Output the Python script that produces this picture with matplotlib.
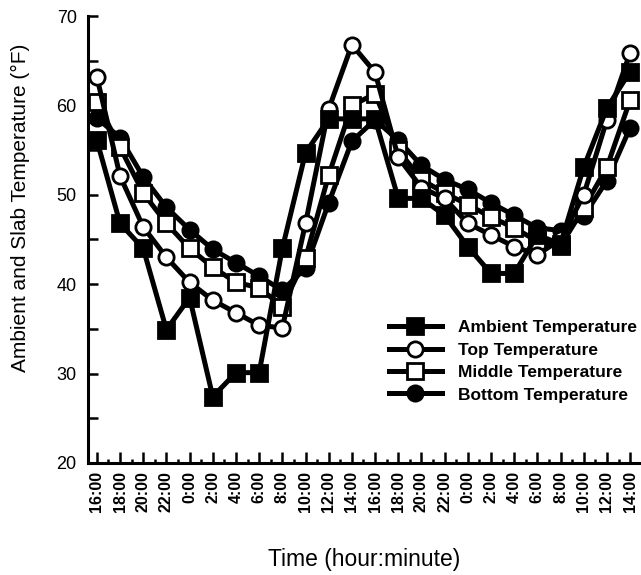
import matplotlib
matplotlib.use("Agg")
import matplotlib.pyplot as plt
from matplotlib import font_manager
from matplotlib.ticker import MultipleLocator
import numpy as np

# Time labels (every 2 hours, starting 16:00 on day 1)
time_labels = ["16:00", "18:00", "20:00", "22:00", "0:00", "2:00", "4:00", "6:00",
               "8:00", "10:00", "12:00", "14:00", "16:00", "18:00", "20:00", "22:00",
               "0:00", "2:00", "4:00", "6:00", "8:00", "10:00", "12:00", "14:00"]

# Temperatures in degrees F
ambient = [56.1, 46.8, 44.0, 34.9, 38.5, 27.4, 30.1, 30.1, 44.0, 54.7, 58.5, 58.5,
           58.5, 49.6, 49.6, 47.7, 44.2, 41.2, 41.2, 45.5, 44.5, 53.1, 59.7, 63.8]
top = [63.2, 52.1, 46.4, 43.0, 40.2, 38.2, 36.8, 35.4, 35.1, 46.8, 59.6, 66.8,
       63.7, 54.2, 50.8, 49.6, 46.8, 45.5, 44.2, 43.3, 45.0, 50.0, 58.4, 65.9]
middle = [60.4, 55.3, 50.2, 46.8, 44.0, 41.9, 40.2, 39.6, 37.5, 42.9, 52.2, 60.0,
          61.3, 55.0, 51.7, 50.2, 48.9, 47.5, 46.3, 44.8, 44.3, 48.5, 53.1, 60.6]
bottom = [58.6, 56.4, 52.0, 48.6, 46.1, 43.9, 42.4, 40.9, 39.3, 41.8, 49.1, 56.0,
          58.4, 56.1, 53.3, 51.7, 50.6, 49.1, 47.7, 46.3, 46.0, 47.6, 51.6, 57.5]

installed = {f.name for f in font_manager.fontManager.ttflist}
narrow = "Liberation Sans Narrow" if "Liberation Sans Narrow" in installed else "Liberation Sans"
plain = "Liberation Sans"

hours = np.arange(len(time_labels)) * 2

fig = plt.figure(figsize=(6.41, 5.75), dpi=100)
ax = fig.add_axes([0.137, 0.195, 0.863, 0.777])

lw = 3.6
ms = 11
mew = 2.0
series = [
    ("Ambient Temperature", ambient, dict(marker="s", mfc="black")),
    ("Top Temperature", top, dict(marker="o", mfc="white")),
    ("Middle Temperature", middle, dict(marker="s", mfc="white")),
    ("Bottom Temperature", bottom, dict(marker="o", mfc="black")),
]
for i, (name, vals, st) in enumerate(series):
    ax.plot(hours, vals, color="black", lw=lw, ms=ms, mec="black", mew=mew,
            label=name, zorder=3 + (3 - i) * 0.1, clip_on=False, **st)

ax.set_xlim(-0.78, 46.94)
ax.set_ylim(20, 70)

ax.set_xticks(hours)
ax.set_xticklabels(time_labels, rotation=90, fontsize=11.5, fontweight="bold",
                   family=plain)
ax.xaxis.set_minor_locator(MultipleLocator(1))
ax.yaxis.set_major_locator(MultipleLocator(10))
ax.yaxis.set_minor_locator(MultipleLocator(5))
for lab in ax.get_yticklabels():
    lab.set_fontsize(13)
    lab.set_family(plain)

ax.tick_params(axis="x", which="major", direction="in", length=8, width=1.8, pad=6)
ax.tick_params(axis="x", which="minor", direction="in", length=3, width=1.8)
ax.tick_params(axis="y", which="major", direction="in", length=7, width=1.8, pad=8)
ax.tick_params(axis="y", which="minor", direction="in", length=7, width=1.8)

for s in ("top", "right"):
    ax.spines[s].set_visible(False)
for s in ("left", "bottom"):
    ax.spines[s].set_linewidth(2.2)

ax.set_ylabel("Ambient and Slab Temperature (°F)", fontsize=15, family=narrow,
              labelpad=12)
ax.yaxis.set_label_coords(-0.105, 0.57)
ax.set_xlabel("Time (hour:minute)", fontsize=16.5, family=narrow, labelpad=26)

leg = ax.legend(loc="lower right", bbox_to_anchor=(1.021, 0.10), frameon=False,
                handlelength=3.1, handletextpad=0.9, labelspacing=0.42,
                prop=dict(family=narrow, size=12.5, weight="bold"))

fig.savefig("out.png", dpi=100)
